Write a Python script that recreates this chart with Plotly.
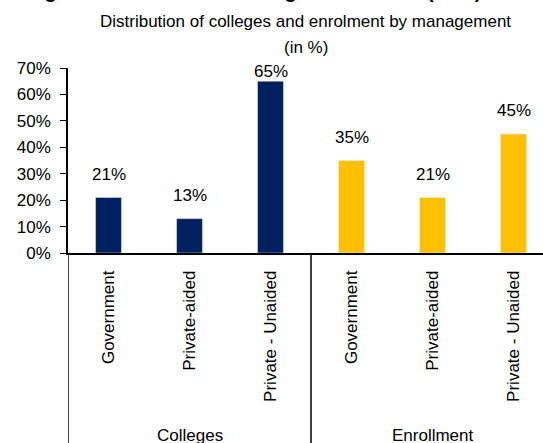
import plotly.graph_objects as go

# ---- data ----
groups = ["Colleges", "Enrollment"]
categories = ["Government", "Private-aided", "Private - Unaided"]
colleges_share = [0.21, 0.13, 0.65]
enrollment_share = [0.35, 0.21, 0.45]
y_ticks = [0, 0.1, 0.2, 0.3, 0.4, 0.5, 0.6, 0.7]
title_lines = ["Distribution of colleges and enrolment by management", "(in %)"]
header_text = "colleges and students of colleges in 2019-20 (in %)"

NAVY = "#002060"
GOLD = "#FFC000"
FONT = "Liberation Sans, Arial, sans-serif"

W, H = 543, 443
ML, MR, MT, MB = 68, 0, 68, 190
plot_w = W - ML - MR
plot_h = H - MT - MB
cat_px = 81.0
x_max = -0.5 + plot_w / cat_px
y_max = 0.7

n = len(categories)
x_col = list(range(n))
x_enr = [n + i for i in range(n)]

fig = go.Figure()
fig.add_trace(go.Bar(x=x_col, y=colleges_share, marker_color=NAVY, width=0.32,
                     name=groups[0], hoverinfo="skip"))
fig.add_trace(go.Bar(x=x_enr, y=enrollment_share, marker_color=GOLD, width=0.32,
                     name=groups[1], hoverinfo="skip"))

annotations = []
px_per_unit = plot_h / y_max
for xs, vals in [(x_col, colleges_share), (x_enr, enrollment_share)]:
    for xv, v in zip(xs, vals):
        room = (y_max - v) * px_per_unit
        shift = 12 if room > 20 else -2
        annotations.append(dict(x=xv, y=v, xref="x", yref="y", text=f"{round(v*100)}%",
                                showarrow=False, yanchor="bottom", yshift=shift,
                                font=dict(size=17, color="#000000", family=FONT)))

def py(pix):
    return 1 - (pix - MT) / plot_h

# group labels
for gi, g in enumerate(groups):
    annotations.append(dict(x=gi * n + (n - 1) / 2, y=py(424), xref="x", yref="paper",
                            text=g, showarrow=False, yanchor="top",
                            font=dict(size=17, color="#000000", family=FONT)))

# title (two lines)
for line, cy in zip(title_lines, [22, 47]):
    annotations.append(dict(x=(305.5 - ML) / plot_w, y=py(cy), xref="paper", yref="paper",
                            text=line, showarrow=False, yanchor="middle", xanchor="center",
                            font=dict(size=17, color="#000000", family=FONT)))
# cropped header
annotations.append(dict(x=(-3 - ML) / plot_w, y=py(4), xref="paper", yref="paper",
                        text="<b>" + header_text + "</b>", showarrow=False,
                        yanchor="bottom", xanchor="left",
                        font=dict(size=20, color="#000000", family=FONT)))

shapes = []
for xv in [-0.5, n - 0.5]:
    shapes.append(dict(type="line", xref="x", yref="paper", x0=xv, x1=xv,
                       y0=0, y1=py(H + 5), line=dict(color="#000000", width=1.5)))

fig.update_layout(
    width=W, height=H,
    margin=dict(l=ML, r=MR, t=MT, b=MB, pad=0, autoexpand=False),
    paper_bgcolor="white", plot_bgcolor="white",
    showlegend=False, barmode="overlay",
    annotations=annotations, shapes=shapes,
    font=dict(family=FONT, size=17, color="#000000"),
)
fig.update_xaxes(range=[-0.5, x_max], tickvals=x_col + x_enr, ticktext=categories * 2,
                 tickangle=-90, showgrid=False, zeroline=False, showline=True,
                 linecolor="#000000", linewidth=1.5, ticks="", ticklabelstandoff=9,
                 automargin=False,
                 tickfont=dict(size=17, family=FONT, color="#000000"))
fig.update_yaxes(range=[0, y_max], tickvals=y_ticks, tickformat=".0%",
                 showgrid=False, zeroline=False, showline=True, linecolor="#000000",
                 linewidth=1.5, ticks="outside", ticklen=6, tickcolor="#000000",
                 ticklabelstandoff=6, automargin=False,
                 tickfont=dict(size=17, family=FONT, color="#000000"))

fig.write_html("out.html", config={"displayModeBar": False},
               post_script="document.body.style.margin='0';document.body.style.overflow='hidden';")
